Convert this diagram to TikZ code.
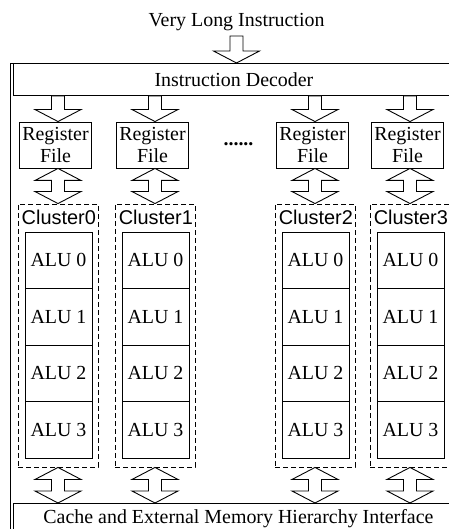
\documentclass[tikz,border=0pt]{standalone}
\usepackage{fontspec}
\setmainfont{Liberation Serif}
\newfontfamily\clusterfont{Liberation Sans}
\usetikzlibrary{calc}

\tikzset{
  box/.style={draw, line width=0.9bp, inner sep=0pt, fill=white},
  rfbox/.style={box, align=center, minimum width=72bp, minimum height=46bp},
  alubox/.style={box, minimum width=67bp, minimum height=56.5bp},
  clbox/.style={draw, dashed, dash pattern=on 5bp off 3bp, line width=0.9bp,
                minimum width=80bp, minimum height=263bp, inner sep=0pt},
  blockarrow/.style={draw, line width=0.9bp, fill=white, line join=miter}
}

% block arrow pointing down: #1 top of shaft, #2 tip
\newcommand{\downblock}[2]{%
  \draw[blockarrow] ($(#1)+(-6.5,0)$) -- ($(#2)+(-6.5,12)$) -- ($(#2)+(-23,12)$)
    -- (#2) -- ($(#2)+(23,12)$) -- ($(#2)+(6.5,12)$) -- ($(#1)+(6.5,0)$) -- cycle;}
% double block arrow: #1 top tip, #2 bottom tip
\newcommand{\bothblock}[2]{%
  \draw[blockarrow] (#1) -- ($(#1)+(23,-12)$) -- ($(#1)+(6.5,-12)$)
    -- ($(#2)+(6.5,12)$) -- ($(#2)+(23,12)$) -- (#2) -- ($(#2)+(-23,12)$)
    -- ($(#2)+(-6.5,12)$) -- ($(#1)+(-6.5,-12)$) -- ($(#1)+(-23,-12)$) -- cycle;}

\begin{document}
\begin{tikzpicture}[x=1bp, y=1bp, font=\fontsize{20}{22}\selectfont]
  \useasboundingbox (0,0) rectangle (449,529);

  % Frame, decoder and memory interface
  \node[box, anchor=north west, minimum width=470bp, minimum height=480bp] (chip) at (10,466) {};
  \node[box, anchor=north west, minimum width=441bp, minimum height=32bp] (dec) at (13,466) {Instruction Decoder};
  \node[box, anchor=north west, minimum width=450bp, minimum height=31bp] (cache) at (13,26) {Cache and External Memory Hierarchy Interface};

  % Input instruction
  \node[anchor=base, inner sep=0pt] (vli) at (236.5,502) {Very Long Instruction};
  \coordinate (vlitop) at (236.5,493);
  \downblock{vlitop}{dec.north -| vlitop}

  % Clusters
  \foreach \i/\c in {0/58, 1/155, 2/315, 3/410} {
    \node[rfbox] (rf\i) at (\c-2.5,384) {Register\\File};
    \node[clbox] (cl\i) at (\c,193.5) {};
    \node[anchor=base west, inner sep=0pt, font=\clusterfont\fontsize{20}{22}\selectfont]
      (cllabel\i) at ($(cl\i.north west)+(4,-21)$) {Cluster\i};
    \foreach \j in {0,1,2,3}
      \node[alubox] (alu\i\j) at (\c+0.5,268.75-56.5*\j) {ALU \j};
    \downblock{dec.south -| cl\i}{rf\i.north -| cl\i}
    \bothblock{rf\i.south -| cl\i}{cl\i.north}
    \bothblock{cl\i.south}{cache.north -| cl\i}
  }

  % Omitted clusters
  \node[anchor=base, inner sep=0pt] (dots) at (238.5,383) {\textbf{......}};
\end{tikzpicture}
\end{document}
